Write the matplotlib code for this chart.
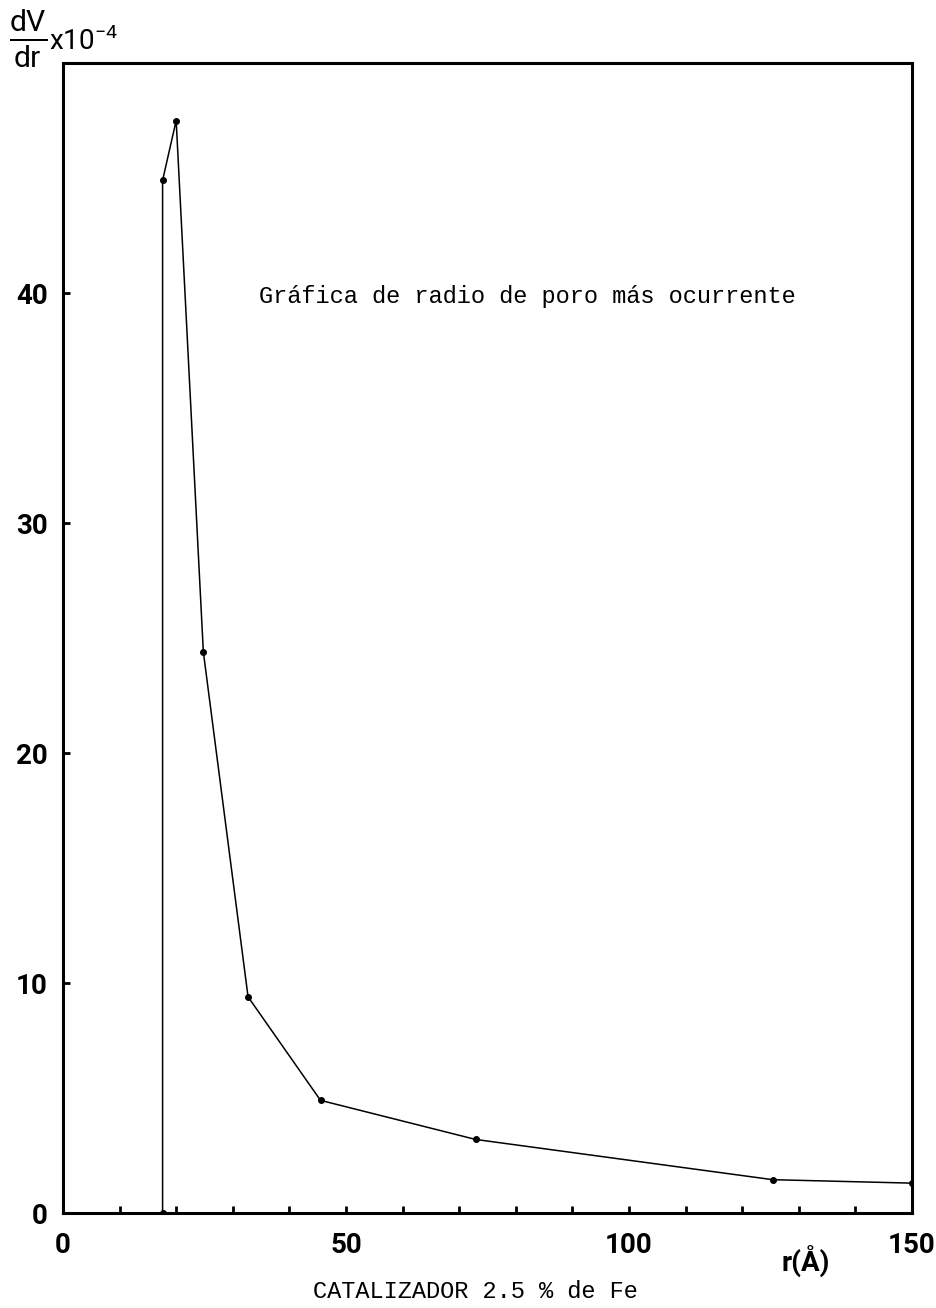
import matplotlib
matplotlib.use("Agg")
import matplotlib.pyplot as plt

# radio de poro (Å) y dV/dr (x10^-4)
radio = [17.6, 17.6, 20.0, 24.8, 32.7, 45.5, 72.9, 125.4, 150.0]
dv_dr = [0.0, 44.9, 47.5, 24.4, 9.4, 4.9, 3.2, 1.45, 1.3]

y_ticks = [0, 10, 20, 30, 40]
x_ticks = [0, 50, 100, 150]

plt.rcParams['mathtext.fontset'] = 'custom'
plt.rcParams['mathtext.rm'] = 'Roboto'
plt.rcParams['font.family'] = ['Roboto', 'DejaVu Sans']

fig = plt.figure(figsize=(9.37, 13.08), dpi=100)
ax = fig.add_axes([0.0672, 0.0726, 0.9061, 0.8792])

ax.plot(radio, dv_dr, color='black', linewidth=1.1,
        marker='o', markersize=4, markerfacecolor='black')

ax.set_xlim(0, 150)
ax.set_ylim(0, 50)

for s in ax.spines.values():
    s.set_linewidth(2.2)

ax.set_yticks(y_ticks)
ax.set_xticks(x_ticks)
ax.set_xticks(range(0, 151, 10), minor=True)
ax.tick_params(axis='both', which='both', direction='in', length=5,
               width=2, labelsize=20, pad=11)
ax.tick_params(axis='x', which='major', pad=14)
for lab in ax.get_xticklabels() + ax.get_yticklabels():
    lab.set_fontweight('bold')

# etiquetas de ejes
fig.text(0.01, 1 - 39 / 1308, r'$\frac{\mathrm{dV}}{\mathrm{dr}}$', fontsize=31,
         ha='left', va='center')
fig.text(0.052, 1 - 41 / 1308, r'x10$^{-4}$', fontsize=20, ha='left',
         va='center')
fig.text(806 / 937, 1 - 1262 / 1308, 'r(Å)', fontsize=20, ha='center',
         va='center', fontweight='bold')

fig.text(527 / 937, 1 - 297 / 1308, 'Gráfica de radio de poro más ocurrente',
         family='Liberation Mono', fontsize=17, ha='center', va='center')
fig.text(475 / 937, 1 - 1292 / 1308, 'CATALIZADOR 2.5 % de Fe',
         family='Liberation Mono', fontsize=17, ha='center', va='center')

fig.savefig('out.png', dpi=100)
